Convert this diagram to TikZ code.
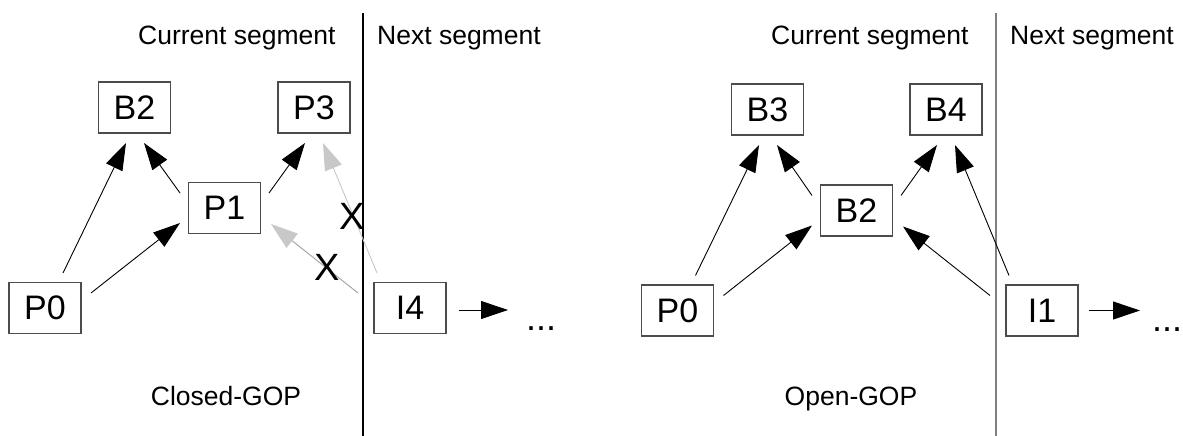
\documentclass[tikz,border=0pt]{standalone}
\usepackage{fontspec}
\setmainfont{Liberation Sans}
\usetikzlibrary{arrows.meta,calc}
\definecolor{lightref}{HTML}{C8C8C8}
\definecolor{midref}{HTML}{A0A0A0}
\begin{document}
\begin{tikzpicture}[x=1pt,y=-1pt,
  frame/.style={draw=black!70, line width=1.1pt, minimum width=72pt, minimum height=51pt,
                inner sep=0pt, font=\fontsize{34}{34}\selectfont},
  link/.style={line width=0.9pt, -{Triangle[length=27pt,width=18pt]}},
  faintlink/.style={line width=0.9pt, draw=lightref,
                    -{Triangle[length=27pt,width=18pt,fill=lightref]}},
  greylink/.style={line width=0.9pt, draw=midref,
                   -{Triangle[length=27pt,width=18pt,color=lightref,fill=lightref]}},
  head/.style={font=\fontsize{26.5}{30}\selectfont, anchor=base west, inner sep=0pt},
  caption/.style={font=\fontsize{26.5}{30}\selectfont, anchor=base, inner sep=0pt},
  cross/.style={font=\fontsize{38}{38}\selectfont, anchor=base, inner sep=0pt},
  more/.style={font=\fontsize{36}{36}\selectfont, anchor=base west, inner sep=0pt},
  divider/.style={line width=1.1pt}
]
\useasboundingbox (0,0) rectangle (1183,436);

% ---------------- Closed-GOP ----------------
\draw[divider, black] (363,13) -- (363,436);
\node[head] (curL) at (138,45) {Current segment};
\node[head] (nextL) at (377,45) {Next segment};
\node[caption] (capL) at (226,405) {Closed-GOP};

\node[frame] (cB2) at (134.5,107.5) {B2};
\node[frame] (cP3) at (314,107.5) {P3};
\node[frame] (cP1) at (224.5,208) {P1};
\node[frame] (cP0) at (45,308) {P0};
\node[frame] (cI4) at (410,308) {I4};
\node[more] (dotsL) at (526,330) {...};

\draw[link] ($(cP0)+(18,-35)$) -- ($(cB2)+(-8.5,35.5)$);
\draw[link] ($(cP1)+(-44.5,-15)$) -- ($(cB2)+(9.5,35.5)$);
\draw[link] ($(cP0)+(46,-15)$) -- ($(cP1)+(-44.5,15)$);
\draw[link] ($(cP1)+(44.5,-15)$) -- ($(cP3)+(-9,35.5)$);
\draw[faintlink] ($(cI4)+(-33,-35)$) -- ($(cP3)+(9,35.5)$);
\draw[greylink] ($(cI4)+(-52,-15)$) -- ($(cP1)+(46.5,16)$);
\draw[link] ($(cI4.east)+(12,2)$) -- ($(dotsL.west |- cI4.east)+(-18,2)$);

\node[cross] (xUp) at (352.5,229) {X};
\node[cross] (xLow) at (327,280) {X};

% ---------------- Open-GOP ----------------
\draw[divider, black!50] (996,13) -- (996,436);
\node[head] (curR) at (771,45) {Current segment};
\node[head] (nextR) at (1010,45) {Next segment};
\node[caption] (capR) at (851,405) {Open-GOP};

\node[frame] (oB3) at (767.5,109.5) {B3};
\node[frame] (oB4) at (946,109.5) {B4};
\node[frame] (oB2) at (856.5,210.5) {B2};
\node[frame] (oP0) at (677.5,310.5) {P0};
\node[frame] (oI1) at (1042,310.5) {I1};
\node[more] (dotsR) at (1152,331) {...};

\draw[link] ($(oP0)+(18,-35)$) -- ($(oB3)+(-8.5,35.5)$);
\draw[link] ($(oB2)+(-44.5,-15)$) -- ($(oB3)+(9.5,35.5)$);
\draw[link] ($(oP0)+(46,-15)$) -- ($(oB2)+(-44.5,15)$);
\draw[link] ($(oB2)+(44.5,-15)$) -- ($(oB4)+(-9,35.5)$);
\draw[link] ($(oI1)+(-33,-35)$) -- ($(oB4)+(9,35.5)$);
\draw[link] ($(oI1)+(-52,-15)$) -- ($(oB2)+(46.5,16)$);
\draw[link] ($(oI1.east)+(10,0)$) -- ($(dotsR.west |- oI1.east)+(-12,0)$);
\end{tikzpicture}
\end{document}
